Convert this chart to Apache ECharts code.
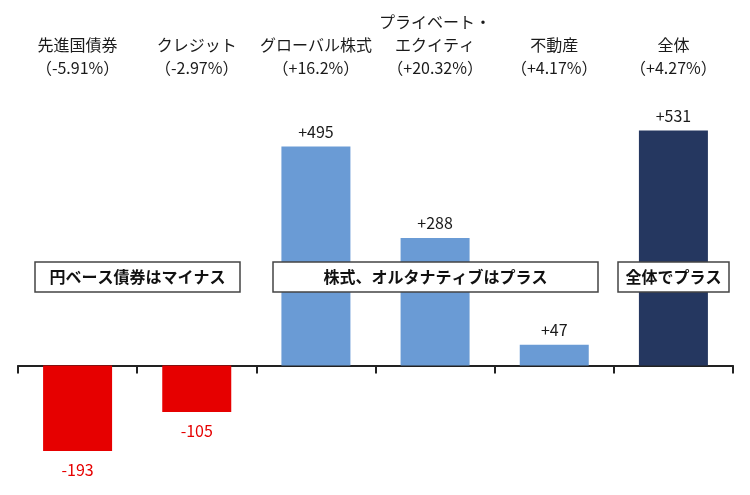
<!DOCTYPE html>
<html><head><meta charset="utf-8">
<script src="https://cdn.jsdelivr.net/npm/echarts@6/dist/echarts.min.js"></script>
<style>html,body{margin:0;padding:0;background:#fff}#c{width:750px;height:495px}</style>
</head><body><div id="c"></div>
<script>
const categories = ['先進国債券', 'クレジット', 'グローバル株式', 'プライベート・\nエクイティ', '不動産', '全体'];
const returns = ['(-5.91%)', '(-2.97%)', '(+16.2%)', '(+20.32%)', '(+4.17%)', '(+4.27%)'];
const values = [-193, -105, 495, 288, 47, 531];
const barColors = ['#E60000', '#E60000', '#6A9BD5', '#6A9BD5', '#6A9BD5', '#253760'];
const notes = [
  { text: '円ベース債券はマイナス', from: 0, to: 1 },
  { text: '株式、オルタナティブはプラス', from: 2, to: 4 },
  { text: '全体でプラス', from: 5, to: 5 }
];
const topLabels = categories.map((c, i) => c + '\n' + returns[i].replace('(', '（').replace(')', '）'));

const FONT = "'Noto Sans CJK JP', 'Noto Sans', sans-serif";
const chart = echarts.init(document.getElementById('c'), null, { renderer: 'canvas' });
const option = {
  animation: false,
  backgroundColor: '#fff',
  textStyle: { fontFamily: FONT },
  grid: { left: 18, right: 17, top: 100, bottom: 41 },
  xAxis: [
    {
      type: 'category', data: categories, position: 'bottom',
      axisLine: { onZero: true, lineStyle: { color: '#222', width: 2 } },
      axisTick: { show: true, length: 8, lineStyle: { color: '#222', width: 2 } },
      axisLabel: { show: false }
    },
    {
      type: 'category', data: topLabels, position: 'top',
      axisLine: { show: false }, axisTick: { show: false },
      axisLabel: { show: true, interval: 0, margin: 21, color: '#1a1a1a', fontSize: 16, lineHeight: 23, fontFamily: FONT }
    }
  ],
  yAxis: { type: 'value', min: -200, max: 600, show: false, splitLine: { show: false } },
  series: [
    {
      type: 'bar', xAxisIndex: 0, barWidth: 69,
      data: values.map((v, i) => ({
        value: v,
        itemStyle: { color: barColors[i] },
        label: {
          show: true,
          position: v >= 0 ? 'top' : 'bottom',
          distance: v >= 0 ? 7 : 11,
          color: v >= 0 ? '#1a1a1a' : '#E60000',
          fontSize: 16, fontFamily: FONT,
          formatter: (v > 0 ? '+' : '') + v
        }
      }))
    }
  ]
};
chart.setOption(option);

const noteBoxes = [[35, 240], [273, 598], [618, 729]];
const graphics = [];
notes.forEach((n, k) => {
  const [x0, x1] = noteBoxes[k];
  const yTop = 262, h = 30;
  graphics.push({
    type: 'rect', shape: { x: x0, y: yTop, width: x1 - x0, height: h },
    style: { fill: '#fff', stroke: '#444', lineWidth: 1.5 }, z: 10
  });
  graphics.push({
    type: 'text', x: (x0 + x1) / 2, y: yTop + h / 2,
    style: { text: n.text, fill: '#111', font: 'bold 16px ' + FONT, textAlign: 'center', textVerticalAlign: 'middle' }, z: 11
  });
});
chart.setOption({ graphic: graphics });
</script></body></html>
